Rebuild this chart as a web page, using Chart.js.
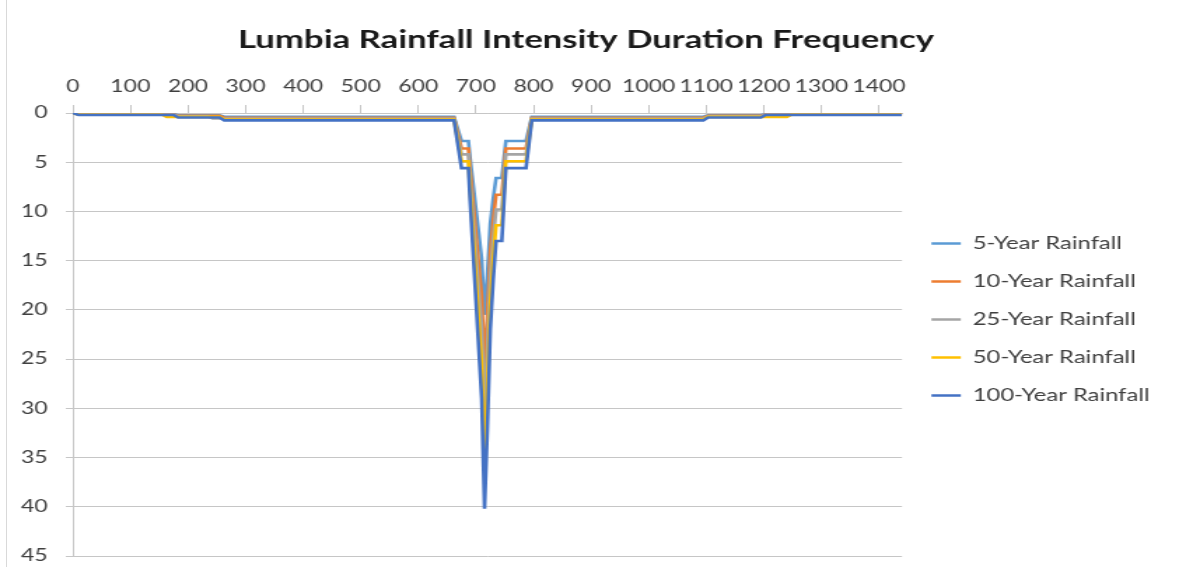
<!DOCTYPE html>
<html>
<head>
<meta charset="utf-8">
<title>Lumbia Rainfall Intensity Duration Frequency</title>
<script src="https://cdn.jsdelivr.net/npm/chart.js@4.4.0/dist/chart.umd.min.js"></script>
<style>
  html, body { margin: 0; padding: 0; background: #fff; }
  body { width: 1179px; height: 567px; overflow: hidden; position: relative; }
  /* the original picture is stretched sideways, so the chart is drawn narrow and scaled */
  #wrap { position: absolute; left: 0; top: 0; width: 842px; height: 567px; transform: scaleX(1.4002); transform-origin: 0 0; }
  #frame { position: absolute; left: 6px; top: 0; width: 1px; height: 567px; background: #d9d9d9; }
</style>
</head>
<body>
<div id="frame"></div>
<div id="wrap"><canvas id="idfChart" width="842" height="567"></canvas></div>
<script>
  // ── data (minutes / intensity) ──────────────────────────
  var TIME = [0, 10, 155, 163, 175, 183, 235, 243, 255, 263, 662, 675, 687, 690, 695, 700, 705, 710, 715,
              720, 725, 730, 735, 745, 752, 787, 797, 1095, 1103, 1195, 1203, 1240, 1248, 1440];

  var RAIN_5 = [0, 0.1, 0.1, 0.1, 0.1, 0.23, 0.23, 0.23, 0.23, 0.38, 0.38, 2.85, 2.85, 4.6, 7.1, 9.7, 12.2, 14.8, 20.5,
                16.3, 11.2, 8.7, 6.6, 6.6, 2.85, 2.85, 0.38, 0.38, 0.23, 0.23, 0.1, 0.1, 0.1, 0.1];
  var RAIN_10 = [0, 0.13, 0.13, 0.13, 0.13, 0.29, 0.29, 0.29, 0.29, 0.48, 0.48, 3.6, 3.6, 5.8, 9, 12.2, 15.4, 18.6, 25.7,
                 20.5, 14.1, 10.9, 8.3, 8.3, 3.6, 3.6, 0.48, 0.48, 0.29, 0.29, 0.13, 0.13, 0.13, 0.13];
  var RAIN_25 = [0, 0.15, 0.15, 0.15, 0.15, 0.34, 0.34, 0.56, 0.56, 0.56, 0.56, 4.2, 4.2, 6.8, 10.5, 14.3, 18, 21.8, 30.2,
                 24, 16.5, 12.8, 9.8, 9.8, 4.2, 4.2, 0.56, 0.56, 0.34, 0.34, 0.15, 0.15, 0.15, 0.15];
  var RAIN_50 = [0, 0.18, 0.18, 0.39, 0.39, 0.39, 0.39, 0.39, 0.39, 0.66, 0.66, 4.9, 4.9, 7.9, 12.3, 16.6, 21, 25.4, 35.2,
                 28, 19.3, 14.9, 11.4, 11.4, 4.9, 4.9, 0.66, 0.66, 0.39, 0.39, 0.39, 0.39, 0.18, 0.18];
  var RAIN_100 = [0, 0.2, 0.2, 0.2, 0.2, 0.45, 0.45, 0.45, 0.45, 0.75, 0.75, 5.6, 5.6, 9, 14, 19, 24, 29, 40.2,
                  32, 22, 17, 13, 13, 5.6, 5.6, 0.75, 0.75, 0.45, 0.45, 0.2, 0.2, 0.2, 0.2];

  var SERIES_NAMES = ["5-Year Rainfall", "10-Year Rainfall", "25-Year Rainfall", "50-Year Rainfall", "100-Year Rainfall"];
  var SERIES_COLORS = ["#5B9BD5", "#ED7D31", "#A5A5A5", "#FFC000", "#4472C4"];
  var X_TICKS = [0, 100, 200, 300, 400, 500, 600, 700, 800, 900, 1000, 1100, 1200, 1300, 1400];
  var Y_TICKS = [0, 5, 10, 15, 20, 25, 30, 35, 40, 45];

  var FONT = "Lato, 'Open Sans', 'Liberation Sans', sans-serif";
  var TEXT_COLOR = "#404040";
  var GRID_COLOR = "#c6c6c6";

  function points(values) {
    return values.map(function (v, i) {
      return { x: TIME[i], y: v };
    });
  }

  function plainLabel(value) {
    return String(value); // no thousands separator
  }

  var allValues = [RAIN_5, RAIN_10, RAIN_25, RAIN_50, RAIN_100];
  var datasets = allValues.map(function (vals, i) {
    return {
      label: SERIES_NAMES[i],
      data: points(vals),
      borderColor: SERIES_COLORS[i],
      backgroundColor: SERIES_COLORS[i],
      borderWidth: 2.6,
      pointRadius: 0,
      tension: 0,
      fill: false,
      order: allValues.length - 1 - i // 100-year drawn on top
    };
  });

  new Chart(document.getElementById("idfChart").getContext("2d"), {
    type: "line",
    data: { datasets: datasets },
    options: {
      responsive: false,
      animation: false,
      events: [],
      layout: { padding: { top: 10, left: 6, right: 11, bottom: -11 } },
      plugins: {
        tooltip: { enabled: false },
        title: {
          display: true,
          text: "Lumbia Rainfall Intensity Duration Frequency",
          color: "#1a1a1a",
          font: { family: FONT, size: 24.8, weight: "bold" },
          padding: { top: 15, bottom: 8 }
        },
        legend: {
          position: "right",
          align: "center",
          title: { display: true, text: "", font: { size: 10 }, padding: { top: 0, bottom: 39 } },
          labels: {
            usePointStyle: true,
            pointStyle: "line",
            pointStyleWidth: 21,
            padding: 21,
            color: TEXT_COLOR,
            font: { family: FONT, size: 17 },
            sort: function (a, b) {
              return a.datasetIndex - b.datasetIndex;
            }
          }
        }
      },
      scales: {
        x: {
          type: "linear",
          position: "top",
          min: 0,
          max: 1440,
          afterFit: function (scale) {
            scale.height = 50.24;
          },
          afterBuildTicks: function (scale) {
            scale.ticks = X_TICKS.map(function (v) { return { value: v }; });
          },
          ticks: { color: TEXT_COLOR, font: { family: FONT, size: 16.4 }, padding: 8, maxRotation: 0, autoSkip: false, callback: plainLabel },
          grid: { drawOnChartArea: false, drawTicks: true, tickLength: 8, color: GRID_COLOR },
          border: { color: GRID_COLOR }
        },
        y: {
          type: "linear",
          reverse: true,
          min: 0,
          max: 45,
          afterFit: function (scale) {
            scale.width = 46;
            // keep the plot bottom at 45 close to the page edge
            scale.paddingTop = 0;
            scale.paddingBottom = 11;
          },
          afterBuildTicks: function (scale) {
            scale.ticks = Y_TICKS.map(function (v) { return { value: v }; });
          },
          ticks: { color: TEXT_COLOR, font: { family: FONT, size: 16.4 }, padding: 13, callback: plainLabel },
          grid: { color: GRID_COLOR, tickLength: 5 },
          border: { color: GRID_COLOR }
        }
      }
    }
  });
</script>
</body>
</html>
